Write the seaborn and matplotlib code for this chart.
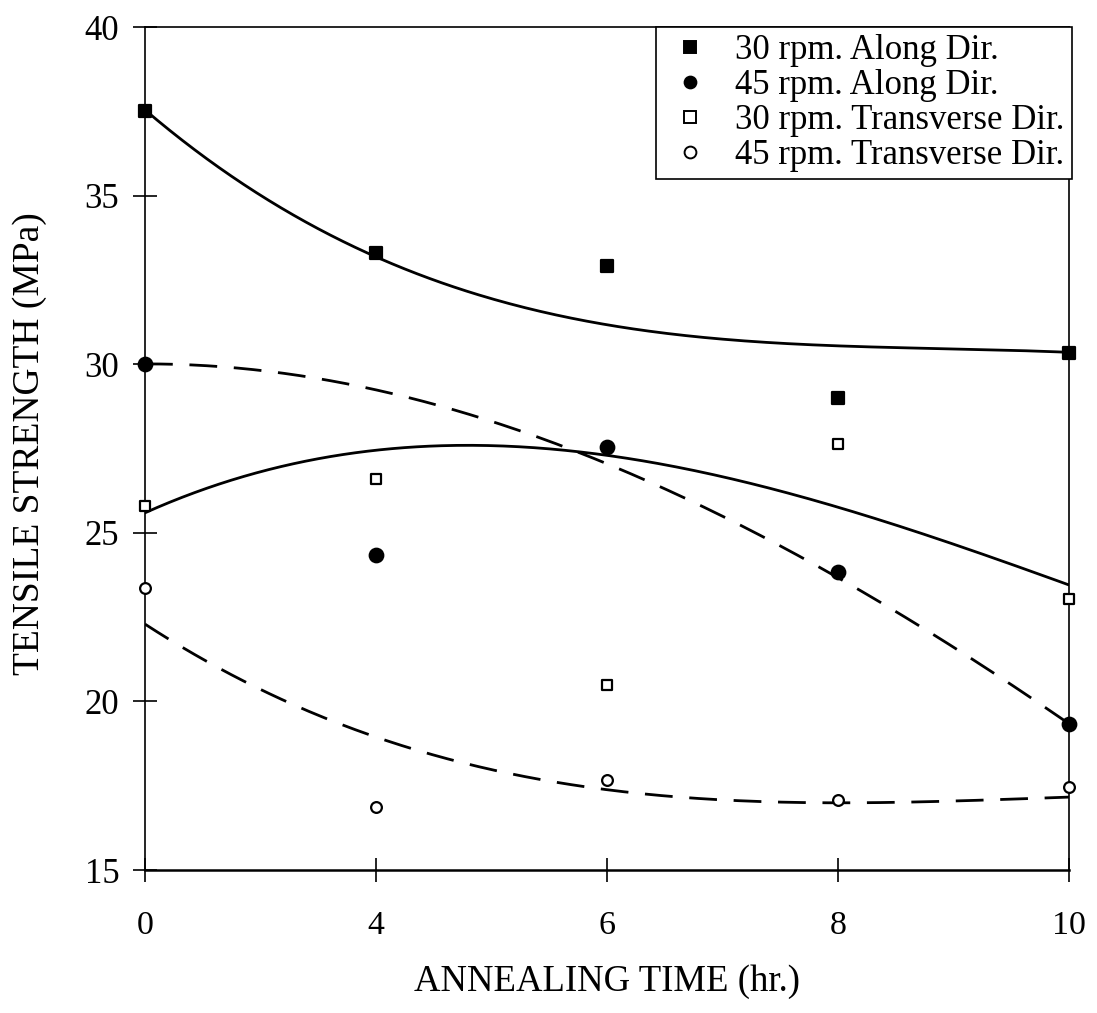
import numpy as np
import pandas as pd
import matplotlib
matplotlib.use("Agg")
import matplotlib.pyplot as plt
import seaborn as sns

# ---------------- data ----------------
time_labels = ["0", "4", "6", "8", "10"]

along_30 = [37.5, 33.3, 32.9, 29.0, 30.33]
along_45 = [30.0, 24.35, 27.54, 23.84, 19.33]
trans_30 = [25.8, 26.6, 20.49, 27.63, 23.04]
trans_45 = [23.36, 16.87, 17.67, 17.08, 17.46]

# trend-line values read at each annealing time
trend_along_30 = [37.55, 33.15, 31.22, 30.51, 30.36]
trend_along_45 = [30.0, 29.27, 27.0, 23.7, 19.33]
trend_trans_30 = [25.59, 27.46, 27.28, 25.77, 23.45]
trend_trans_45 = [22.3, 18.91, 17.43, 16.96, 17.17]

series_labels = ["30 rpm. Along Dir.", "45 rpm. Along Dir.",
                 "30 rpm. Transverse Dir.", "45 rpm. Transverse Dir."]

# ---------------- style ----------------
sns.set_theme(style="white")
plt.rcParams["font.family"] = ["Liberation Serif", "DejaVu Serif"]
for key in ["text.color", "axes.labelcolor", "xtick.color", "ytick.color"]:
    plt.rcParams[key] = "black"

fig = plt.figure(figsize=(10.97, 10.13), dpi=100)
ax = fig.add_axes([145 / 1097, 1 - 870 / 1013, (1069 - 145) / 1097, (870 - 27) / 1013])
ax.set_facecolor("none")

idx = np.arange(len(time_labels))
fine = np.linspace(0, len(time_labels) - 1, 300)

# trend curves (cubic fits through the trend values)
dash = (0, (10, 6))
trend_specs = [
    (trend_along_30, "-"),
    (trend_along_45, dash),
    (trend_trans_30, "-"),
    (trend_trans_45, dash),
]
for vals, ls in trend_specs:
    coef = np.polyfit(idx, vals, 3)
    yfit = np.polyval(coef, fine)
    sns.lineplot(x=fine, y=yfit, ax=ax, color="black", linewidth=2.0,
                 linestyle=ls, zorder=3, legend=False)

# data markers
marker_specs = [
    (along_30, "s", "black", 85),
    (along_45, "o", "black", 95),
    (trans_30, "s", "white", 55),
    (trans_45, "o", "white", 60),
]
handles = []
for (vals, mk, fc, size), lab in zip(marker_specs, series_labels):
    sns.scatterplot(x=idx, y=vals, ax=ax, marker=mk, s=size,
                    facecolor=fc, edgecolor="black", linewidth=1.6,
                    zorder=5, clip_on=False, legend=False)
    ax.collections[-1].set_clip_on(False)
    handles.append(plt.Line2D([], [], linestyle="none", marker=mk,
                              markersize=8 if mk == "s" else 8.5,
                              markerfacecolor=fc, markeredgecolor="black",
                              markeredgewidth=1.4, label=lab))

# axes
ax.set_xlim(0, len(time_labels) - 1)
ax.set_ylim(15, 40)
ax.set_xticks(idx)
ax.set_xticklabels(time_labels)
ax.set_yticks([15, 20, 25, 30, 35, 40])
for s in ax.spines.values():
    s.set_visible(True)
    s.set_color("black")
    s.set_linewidth(1.2)
ax.spines["bottom"].set_linewidth(1.8)

ax.tick_params(axis="y", direction="inout", length=17, width=1.2,
               labelsize=25, pad=10, left=True, right=False)
ax.tick_params(axis="x", direction="inout", length=17, width=1.2,
               labelsize=24.5, pad=21, bottom=True, top=False)

ax.set_xlabel("ANNEALING TIME (hr.)", fontsize=26.5)
ax.set_ylabel("TENSILE STRENGTH (MPa)", fontsize=27)
ax.xaxis.label.set_va("center")
ax.xaxis.set_label_coords(0.5, -(982 - 870) / 843)
ax.yaxis.label.set_va("center")
ax.yaxis.set_label_coords(-(145 - 30) / 924, (870 - 443.5) / 843)

leg = ax.legend(handles=handles, loc="upper right", bbox_to_anchor=(1.003, 1.0),
                borderaxespad=0.0, frameon=True, fancybox=False, framealpha=1,
                edgecolor="black", fontsize=25, handlelength=1.6,
                handletextpad=0.5, labelspacing=0.06, borderpad=0.2)
leg.get_frame().set_linewidth(1.2)
leg.set_zorder(10)

fig.savefig("out.png", dpi=100, facecolor="white")
